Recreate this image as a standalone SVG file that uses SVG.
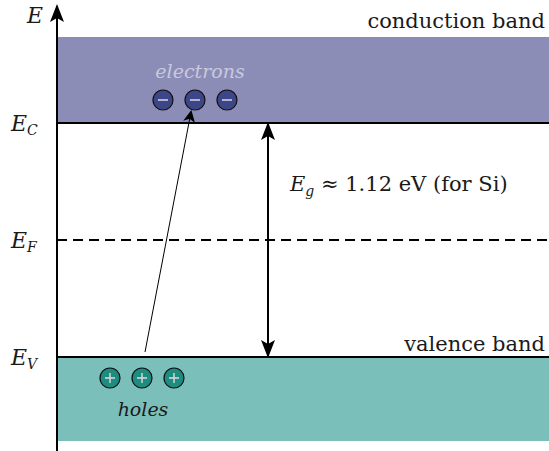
<svg xmlns="http://www.w3.org/2000/svg" width="549" height="451" viewBox="0 0 549 451">
<style>
text{fill:#1a1a1a;font-family:"DejaVu Serif",serif}
.it{font-style:italic}
.sub{font-size:14px}
.lvl{stroke:#000;stroke-width:2}
.e{fill:#3c4688;stroke:#111;stroke-width:1.2}
.h{fill:#1e8c80;stroke:#111;stroke-width:1.2}
.sign{stroke:#dcdcdc;stroke-width:1.4}
</style>
<defs>
<marker id="ah" viewBox="0 0 12 12" refX="10" refY="6" markerWidth="12" markerHeight="12" markerUnits="userSpaceOnUse" orient="auto">
<path d="M0,0 L12,6 L0,12 L3,6 Z" fill="#000"/>
</marker>
<marker id="ahb" viewBox="0 0 18 14" refX="16" refY="7" markerWidth="18" markerHeight="14" markerUnits="userSpaceOnUse" orient="auto-start-reverse">
<path d="M0,0 L18,7 L0,14 L4,7 Z" fill="#000"/>
</marker>
</defs>
<g id="conduction-band">
<rect x="57" y="37" width="492" height="86" fill="#8b8db6"/>
<text x="545" y="28" text-anchor="end" font-size="21">conduction band</text>
</g>
<g id="valence-band">
<rect x="57" y="357" width="492" height="84" fill="#7bbfba"/>
<text x="545" y="351" text-anchor="end" font-size="21">valence band</text>
</g>
<g id="levels">
<line class="lvl" x1="57" y1="123" x2="549" y2="123"/>
<line class="lvl" x1="57" y1="357" x2="549" y2="357"/>
<line x1="57" y1="240" x2="549" y2="240" stroke="#000" stroke-width="2" stroke-dasharray="10,6"/>
</g>
<g id="axis">
<line x1="57" y1="451" x2="57" y2="6" stroke="#000" stroke-width="2" marker-end="url(#ahb)"/>
<text x="27" y="23" class="it" font-size="22">E</text>
<text x="11" y="131" class="it" font-size="22">E<tspan class="sub" dy="4">C</tspan></text>
<text x="11" y="248" class="it" font-size="22">E<tspan class="sub" dy="4">F</tspan></text>
<text x="11" y="365" class="it" font-size="22">E<tspan class="sub" dy="4">V</tspan></text>
</g>
<g id="electrons">
<text x="200" y="78" class="it" font-size="19" text-anchor="middle" style="fill:#c9c9dc">electrons</text>
<circle class="e" cx="163" cy="100" r="10"/>
<circle class="e" cx="195" cy="100" r="10"/>
<circle class="e" cx="227" cy="100" r="10"/>
<path class="sign" d="M158,100h10M190,100h10M222,100h10"/>
</g>
<g id="holes">
<circle class="h" cx="110" cy="378" r="10"/>
<circle class="h" cx="142" cy="378" r="10"/>
<circle class="h" cx="174" cy="378" r="10"/>
<path class="sign" d="M105,378h10M110,373v10M137,378h10M142,373v10M169,378h10M174,373v10"/>
<text x="143" y="416" class="it" font-size="19" text-anchor="middle">holes</text>
</g>
<g id="connectors">
<line x1="145" y1="352" x2="191" y2="112" stroke="#000" stroke-width="1" marker-end="url(#ah)"/>
<line x1="268" y1="124" x2="268" y2="356" stroke="#000" stroke-width="2" marker-start="url(#ahb)" marker-end="url(#ahb)"/>
</g>
<g id="gap-label">
<text x="290" y="191" font-size="21"><tspan class="it">E</tspan><tspan class="it sub" dy="5">g</tspan><tspan dy="-5"> ≈ 1.12 eV (for Si)</tspan></text>
</g>
</svg>
